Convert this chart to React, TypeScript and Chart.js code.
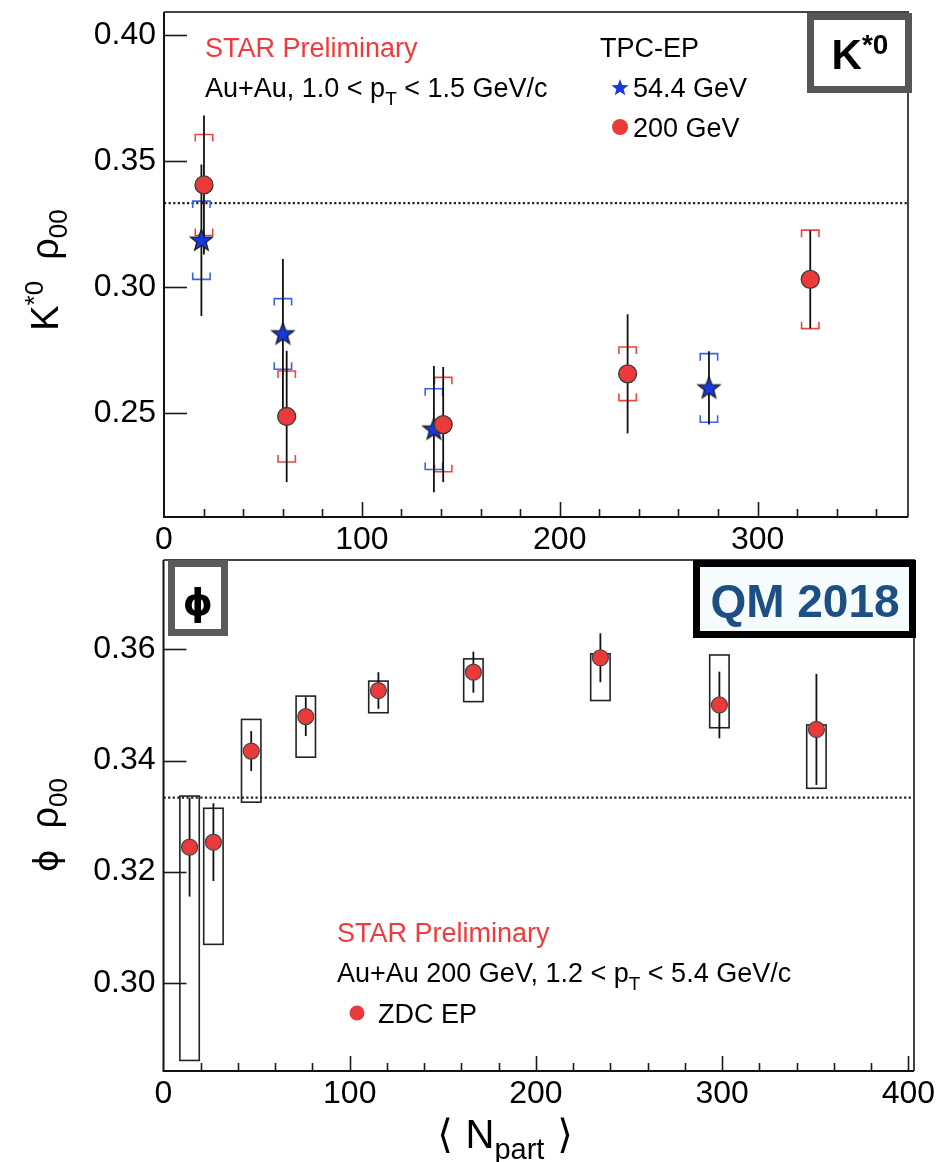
import React, { useEffect, useRef } from 'react';
import { Chart, registerables } from 'chart.js';

Chart.register(...registerables);

// ---------- Top panel: K*0 rho00 vs <Npart> ----------
const kN544 = [18.9, 60.1, 136.4, 275.4];
const kRho544 = [0.3186, 0.2815, 0.2438, 0.2601];
const kStat544 = [0.030, 0.0297, 0.025, 0.0145];
const kSys544 = [0.0155, 0.014, 0.016, 0.0136];

const kN200 = [20.2, 62.0, 141.1, 234.3, 326.6];
const kRho200 = [0.3405, 0.2488, 0.2456, 0.2657, 0.3031];
const kStat200 = [0.0275, 0.026, 0.0228, 0.0236, 0.0194];
const kSys200 = [0.020, 0.018, 0.0187, 0.0106, 0.0195];

const kXTicks = [0, 100, 200, 300];
const kYTicks = [0.25, 0.30, 0.35, 0.40];

// ---------- Bottom panel: phi rho00 vs <Npart> ----------
const phiN = [14.0, 26.8, 47.1, 76.4, 115.4, 166.4, 234.6, 298.5, 350.6];
const phiRho = [0.3244, 0.3253, 0.3417, 0.3479, 0.3526, 0.3559, 0.3585, 0.3500, 0.3456];
const phiStat = [0.0089, 0.0070, 0.0036, 0.0035, 0.0033, 0.0037, 0.0044, 0.0060, 0.0100];
const phiSysLow = [0.2860, 0.3069, 0.3325, 0.3406, 0.3486, 0.3506, 0.3508, 0.3459, 0.3350];
const phiSysHigh = [0.3336, 0.3314, 0.3474, 0.3516, 0.3543, 0.3583, 0.3592, 0.3590, 0.3464];

const phiXTicks = [0, 100, 200, 300, 400];
const phiYTicks = [0.30, 0.32, 0.34, 0.36];

const rhoRef = 1 / 3;

// ---------- styles ----------
const FONT = '"Liberation Sans", "DejaVu Sans", Arial, sans-serif';
const RED = '#ea3a3a';
const RED_SYS = '#f04545';
const BLUE = '#1838e0';
const BLUE_SYS = '#3a62f2';
const TEXT_RED = '#ee3b3b';

type Part = { t: string; size: number; dy?: number; bold?: boolean; color?: string; family?: string };

function fontOf(p: Part) {
  return `${p.bold ? 'bold ' : ''}${p.size}px ${p.family || FONT}`;
}

function drawParts(ctx: CanvasRenderingContext2D, parts: Part[], x: number, y: number, align: 'left' | 'center' = 'left') {
  let w = 0;
  for (const p of parts) {
    ctx.font = fontOf(p);
    w += ctx.measureText(p.t).width;
  }
  let cx = align === 'center' ? x - w / 2 : x;
  ctx.textAlign = 'left';
  ctx.textBaseline = 'alphabetic';
  for (const p of parts) {
    ctx.font = fontOf(p);
    ctx.fillStyle = p.color || '#000';
    ctx.fillText(p.t, cx, y + (p.dy || 0));
    cx += ctx.measureText(p.t).width;
  }
}

function starPath(g: CanvasRenderingContext2D, cx: number, cy: number, ro: number, ri: number) {
  g.beginPath();
  for (let i = 0; i < 10; i++) {
    const r = i % 2 === 0 ? ro : ri;
    const ang = -Math.PI / 2 + (i * Math.PI) / 5;
    const px = cx + r * Math.cos(ang);
    const py = cy + r * Math.sin(ang);
    if (i === 0) g.moveTo(px, py);
    else g.lineTo(px, py);
  }
  g.closePath();
}

function makeStar(ro: number, fill: string, stroke: string) {
  const s = Math.ceil(ro * 2 + 4);
  const c = document.createElement('canvas');
  c.width = s;
  c.height = s;
  const g = c.getContext('2d')!;
  starPath(g, s / 2, s / 2 + 0.5, ro, ro * 0.42);
  g.fillStyle = fill;
  g.fill();
  g.lineWidth = 1.3;
  g.strokeStyle = stroke;
  g.stroke();
  return c;
}

function drawFrameAndTicks(chart: any, yTicks: number[], minorStep: number, majorStep: number) {
  const { ctx, chartArea: a, scales } = chart;
  const x = scales.x;
  const y = scales.y;
  ctx.save();
  ctx.strokeStyle = '#1a1a1a';
  ctx.lineWidth = 1.6;
  for (let v = minorStep; v <= x.max + 1e-9; v += minorStep) {
    const px = Math.round(x.getPixelForValue(v)) + 0.5;
    const major = Math.abs(v / majorStep - Math.round(v / majorStep)) < 1e-6;
    const len = major ? 15 : 8;
    ctx.beginPath();
    ctx.moveTo(px, a.bottom);
    ctx.lineTo(px, a.bottom - len);
    ctx.stroke();
  }
  for (const t of yTicks) {
    const py = Math.round(y.getPixelForValue(t)) + 0.5;
    ctx.beginPath();
    ctx.moveTo(a.left, py);
    ctx.lineTo(a.left + 23, py);
    ctx.stroke();
  }
  ctx.lineWidth = 2;
  ctx.strokeStyle = '#444';
  ctx.beginPath();
  ctx.moveTo(a.left, a.top);
  ctx.lineTo(a.right, a.top);
  ctx.lineTo(a.right, a.bottom);
  ctx.stroke();
  ctx.strokeStyle = '#111';
  ctx.beginPath();
  ctx.moveTo(a.left, a.top);
  ctx.lineTo(a.left, a.bottom);
  ctx.lineTo(a.right, a.bottom);
  ctx.stroke();
  ctx.restore();
}

function drawDotted(chart: any) {
  const { ctx, chartArea: a, scales } = chart;
  const py = scales.y.getPixelForValue(rhoRef);
  ctx.save();
  ctx.setLineDash([2.2, 2.4]);
  ctx.lineWidth = 2.2;
  ctx.strokeStyle = '#222';
  ctx.beginPath();
  ctx.moveTo(a.left, py);
  ctx.lineTo(a.right, py);
  ctx.stroke();
  ctx.restore();
}

function drawBrackets(ctx: CanvasRenderingContext2D, x: any, y: any, ns: number[], vs: number[], sys: number[], color: string) {
  const hw = 8.7;
  const tk = 7;
  ctx.save();
  ctx.strokeStyle = color;
  ctx.lineWidth = 1.6;
  ns.forEach((n, i) => {
    const px = x.getPixelForValue(n);
    const yt = y.getPixelForValue(vs[i] + sys[i]);
    const yb = y.getPixelForValue(vs[i] - sys[i]);
    ctx.beginPath();
    ctx.moveTo(px - hw, yt + tk);
    ctx.lineTo(px - hw, yt);
    ctx.lineTo(px + hw, yt);
    ctx.lineTo(px + hw, yt + tk);
    ctx.moveTo(px - hw, yb - tk);
    ctx.lineTo(px - hw, yb);
    ctx.lineTo(px + hw, yb);
    ctx.lineTo(px + hw, yb - tk);
    ctx.stroke();
  });
  ctx.restore();
}

function drawStat(ctx: CanvasRenderingContext2D, x: any, y: any, ns: number[], vs: number[], err: number[]) {
  ctx.save();
  ctx.strokeStyle = '#111';
  ctx.lineWidth = 1.8;
  ns.forEach((n, i) => {
    const px = x.getPixelForValue(n);
    ctx.beginPath();
    ctx.moveTo(px, y.getPixelForValue(vs[i] + err[i]));
    ctx.lineTo(px, y.getPixelForValue(vs[i] - err[i]));
    ctx.stroke();
  });
  ctx.restore();
}

function boxFrame(ctx: CanvasRenderingContext2D, x0: number, y0: number, x1: number, y1: number, bw: number, color: string, fill: string) {
  ctx.save();
  ctx.fillStyle = fill;
  ctx.fillRect(x0, y0, x1 - x0, y1 - y0);
  ctx.lineWidth = bw;
  ctx.strokeStyle = color;
  ctx.strokeRect(x0 + bw / 2, y0 + bw / 2, x1 - x0 - bw, y1 - y0 - bw);
  ctx.restore();
}

const topPlugin = {
  id: 'kstarDecor',
  beforeDatasetsDraw(chart: any) {
    const { ctx, scales } = chart;
    drawDotted(chart);
    drawBrackets(ctx, scales.x, scales.y, kN544, kRho544, kSys544, BLUE_SYS);
    drawBrackets(ctx, scales.x, scales.y, kN200, kRho200, kSys200, RED_SYS);
    drawStat(ctx, scales.x, scales.y, kN544, kRho544, kStat544);
    drawStat(ctx, scales.x, scales.y, kN200, kRho200, kStat200);
  },
  afterDatasetsDraw(chart: any) {
    const { ctx } = chart;
    drawFrameAndTicks(chart, kYTicks, 20, 100);
    ctx.save();
    drawParts(ctx, [{ t: 'STAR Preliminary', size: 27, color: TEXT_RED }], 205, 57);
    drawParts(ctx, [
      { t: 'Au+Au, 1.0 < p', size: 27 },
      { t: 'T', size: 19, dy: 8 },
      { t: ' < 1.5 GeV/c', size: 27 },
    ], 205, 97);
    drawParts(ctx, [{ t: 'TPC-EP', size: 27 }], 600, 57);
    starPath(ctx, 620, 88, 9, 3.8);
    ctx.fillStyle = BLUE;
    ctx.fill();
    drawParts(ctx, [{ t: '54.4 GeV', size: 27 }], 633, 97);
    ctx.beginPath();
    ctx.arc(620, 127, 8, 0, Math.PI * 2);
    ctx.fillStyle = RED;
    ctx.fill();
    drawParts(ctx, [{ t: '200 GeV', size: 27 }], 633, 137);
    boxFrame(ctx, 807, 13, 912, 93, 7, '#565656', '#fff');
    drawParts(ctx, [
      { t: 'K', size: 42, bold: true },
      { t: '*0', size: 28, bold: true, dy: -15 },
    ], 860, 69, 'center');
    ctx.translate(58, 270);
    ctx.rotate(-Math.PI / 2);
    drawParts(ctx, [
      { t: 'K', size: 38 },
      { t: '*0', size: 26, dy: -15 },
      { t: '  ', size: 38 },
      { t: 'ρ', size: 38 },
      { t: '00', size: 26, dy: 9 },
    ], 0, 0, 'center');
    ctx.restore();
  },
};

const bottomPlugin = {
  id: 'phiDecor',
  beforeDatasetsDraw(chart: any) {
    const { ctx, scales } = chart;
    const x = scales.x;
    const y = scales.y;
    drawDotted(chart);
    ctx.save();
    ctx.strokeStyle = '#222';
    ctx.lineWidth = 1.6;
    phiN.forEach((n, i) => {
      const px = x.getPixelForValue(n);
      const yt = y.getPixelForValue(phiSysHigh[i]);
      const yb = y.getPixelForValue(phiSysLow[i]);
      ctx.strokeRect(px - 9.7, yt, 19.4, yb - yt);
    });
    ctx.restore();
    drawStat(ctx, x, y, phiN, phiRho, phiStat);
  },
  afterDatasetsDraw(chart: any) {
    const { ctx } = chart;
    drawFrameAndTicks(chart, phiYTicks, 20, 100);
    ctx.save();
    drawParts(ctx, [{ t: 'STAR Preliminary', size: 27, color: TEXT_RED }], 337, 397);
    drawParts(ctx, [
      { t: 'Au+Au 200 GeV, 1.2 < p', size: 27 },
      { t: 'T', size: 19, dy: 8 },
      { t: ' < 5.4 GeV/c', size: 27 },
    ], 337, 437);
    ctx.beginPath();
    ctx.arc(357, 468, 7.5, 0, Math.PI * 2);
    ctx.fillStyle = RED;
    ctx.fill();
    drawParts(ctx, [{ t: 'ZDC EP', size: 27 }], 378, 478);
    boxFrame(ctx, 168, 15, 228, 91, 7, '#5a5a5a', '#fff');
    drawParts(ctx, [{ t: 'ϕ', size: 38, bold: true, family: '"DejaVu Sans", sans-serif' }], 198, 70, 'center');
    boxFrame(ctx, 693, 15, 916, 93, 7, '#000', '#f6fbfd');
    drawParts(ctx, [{ t: 'QM 2018', size: 46, bold: true, color: '#1d4f84' }], 805, 72, 'center');
    drawParts(ctx, [
      { t: '⟨ ', size: 40, family: '"DejaVu Sans", sans-serif' },
      { t: 'N', size: 40 },
      { t: 'part', size: 29, dy: 11 },
      { t: ' ⟩', size: 40, family: '"DejaVu Sans", sans-serif' },
    ], 505, 603, 'center');
    ctx.translate(58, 280);
    ctx.rotate(-Math.PI / 2);
    drawParts(ctx, [
      { t: 'ϕ', size: 34, family: '"DejaVu Sans", sans-serif' },
      { t: '  ', size: 38 },
      { t: 'ρ', size: 38 },
      { t: '00', size: 26, dy: 9 },
    ], 0, 0, 'center');
    ctx.restore();
  },
};

function makeScales(xmax: number, ymin: number, ymax: number, xTicks: number[], yTicks: number[], yWidth: number, xHeight: number) {
  return {
    x: {
      type: 'linear',
      min: 0,
      max: xmax,
      afterBuildTicks: (s: any) => { s.ticks = xTicks.map((v) => ({ value: v })); },
      afterFit: (s: any) => { s.height = xHeight; s.paddingLeft = 0; s.paddingRight = 0; },
      ticks: { font: { family: FONT, size: 32 }, color: '#000', padding: 4, maxRotation: 0, autoSkip: false },
      grid: { display: false, drawTicks: false },
      border: { display: false },
    },
    y: {
      type: 'linear',
      min: ymin,
      max: ymax,
      afterBuildTicks: (s: any) => { s.ticks = yTicks.map((v) => ({ value: v })); },
      afterFit: (s: any) => { s.width = yWidth; s.paddingTop = 0; s.paddingBottom = 0; },
      ticks: {
        font: { family: FONT, size: 32 },
        color: '#000',
        padding: 8,
        autoSkip: false,
        callback: (v: any) => Number(v).toFixed(2),
      },
      grid: { display: false, drawTicks: false },
      border: { display: false },
    },
  };
}

export default function App() {
  const topRef = useRef<HTMLCanvasElement>(null);
  const botRef = useRef<HTMLCanvasElement>(null);

  useEffect(() => {
    const star = makeStar(11.5, BLUE, '#1a1a1a');
    const c1 = new Chart(topRef.current as HTMLCanvasElement, {
      type: 'scatter',
      data: {
        datasets: [
          {
            label: '200 GeV',
            data: kN200.map((n, i) => ({ x: n, y: kRho200[i] })),
            pointStyle: 'circle',
            pointRadius: 9,
            pointHoverRadius: 9,
            backgroundColor: RED,
            borderColor: '#3a3a3a',
            borderWidth: 1.3,
          },
          {
            label: '54.4 GeV',
            data: kN544.map((n, i) => ({ x: n, y: kRho544[i] })),
            pointStyle: star,
            pointRadius: 11,
            pointHoverRadius: 11,
          },
        ],
      },
      options: {
        animation: false,
        responsive: false,
        events: [],
        layout: { padding: { top: 11, right: 32, left: 0, bottom: 0 } },
        plugins: { legend: { display: false }, tooltip: { enabled: false } },
        scales: makeScales(376, 0.209, 0.409, kXTicks, kYTicks, 164, 38) as any,
      },
      plugins: [topPlugin],
    } as any);

    const c2 = new Chart(botRef.current as HTMLCanvasElement, {
      type: 'scatter',
      data: {
        datasets: [
          {
            label: 'ZDC EP',
            data: phiN.map((n, i) => ({ x: n, y: phiRho[i] })),
            pointStyle: 'circle',
            pointRadius: 8,
            pointHoverRadius: 8,
            backgroundColor: RED,
            borderColor: '#444',
            borderWidth: 1.2,
          },
        ],
      },
      options: {
        animation: false,
        responsive: false,
        events: [],
        layout: { padding: { top: 15, right: 26, left: 0, bottom: 0 } },
        plugins: { legend: { display: false }, tooltip: { enabled: false } },
        scales: makeScales(403, 0.2841, 0.3761, phiXTicks, phiYTicks, 163.5, 91) as any,
      },
      plugins: [bottomPlugin],
    } as any);

    return () => {
      c1.destroy();
      c2.destroy();
    };
  }, []);

  return (
    <div style={{ position: 'absolute', left: 0, top: 0, width: 940, height: 1162, background: '#fff', overflow: 'hidden' }}>
      <canvas ref={topRef} width={940} height={555} style={{ position: 'absolute', left: 0, top: 0, width: 940, height: 555 }} />
      <canvas ref={botRef} width={940} height={617} style={{ position: 'absolute', left: 0, top: 545, width: 940, height: 617 }} />
    </div>
  );
}
